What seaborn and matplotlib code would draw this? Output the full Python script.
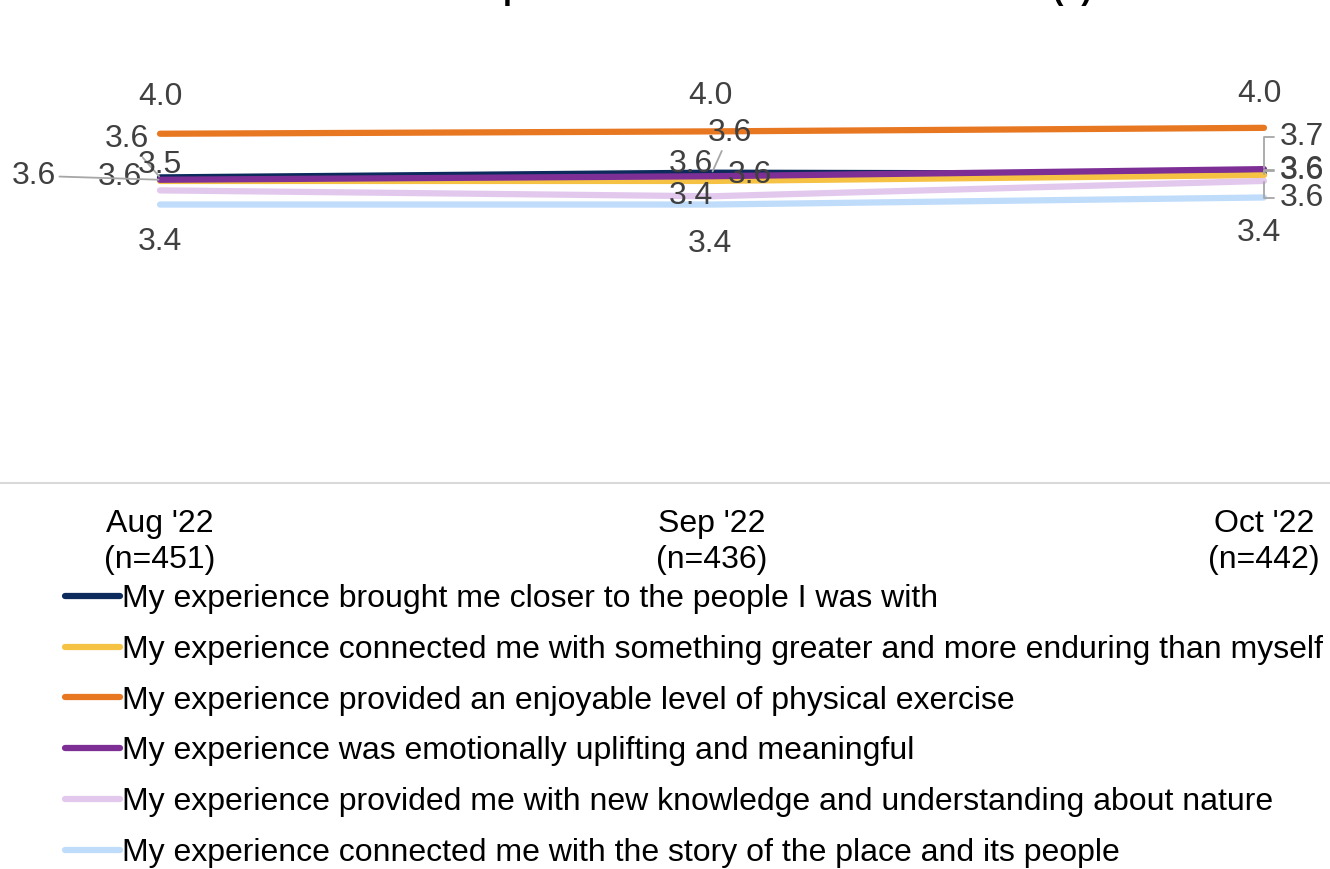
import numpy as np
import pandas as pd
import seaborn as sns
import matplotlib.pyplot as plt

# -------------------- data --------------------
months = ["Aug '22\n(n=451)", "Sep '22\n(n=436)", "Oct '22\n(n=442)"]

series_names = [
    "My experience brought me closer to the people I was with",
    "My experience connected me with something greater and more enduring than myself",
    "My experience provided an enjoyable level of physical exercise",
    "My experience was emotionally uplifting and meaningful",
    "My experience provided me with new knowledge and understanding about nature",
    "My experience connected me with the story of the place and its people",
]

closer_people = [3.59, 3.63, 3.62]
greater_than_myself = [3.56, 3.56, 3.61]
physical_exercise = [3.96, 3.98, 4.01]
emotionally_uplifting = [3.57, 3.60, 3.66]
new_knowledge = [3.48, 3.43, 3.56]
story_of_place = [3.36, 3.36, 3.42]

all_values = [closer_people, greater_than_myself, physical_exercise,
              emotionally_uplifting, new_knowledge, story_of_place]

colors = ["#0c2a5b", "#f5c244", "#e87722", "#7e2f96", "#e3c8ee", "#bfdcfb"]

title = "Personal Experience at Protected Natural Areas (4)"

# label offsets in pixels (dx, dy) per series per month, and the leader style
label_offsets = {
    0: [(-33, 38, "line"), (18, 40, "line"), (38, 3, "angle")],
    1: [(-40, 4, None), (38, 6, None), (38, 5, "angle")],
    2: [(0, 37, None), (-2, 35, None), (-5, 34, None)],
    3: [(-126, 4, "line"), (-21, 12, None), (38, 32, "angle")],
    4: [(0, 25, None), (-21, 0, None), (38, -17, "angle")],
    5: [(0, -37, None), (-2, -39, None), (-5, -36, None)],
}

FS = 23

# -------------------- build frame --------------------
rows = []
for name, vals in zip(series_names, all_values):
    for i, v in enumerate(vals):
        rows.append({"month": i, "score": v, "statement": name})
df = pd.DataFrame(rows)

sns.set_theme(style="white")
plt.rcParams["font.family"] = ["Liberation Sans", "DejaVu Sans"]

fig = plt.figure(figsize=(13.3, 8.69), dpi=100)
ax = fig.add_axes([0, 0.4442, 1, 0.5431])

sns.lineplot(data=df, x="month", y="score", hue="statement", hue_order=series_names,
             palette=colors, linewidth=4.5, sort=False, ax=ax,
             solid_capstyle="round", legend=True)

ax.set_xlim(-0.2899, 2.1196)
ax.set_ylim(1, 5)
ax.set_xticks(range(len(months)))
ax.set_xticklabels(months, fontsize=FS, color="black", linespacing=1.25)
ax.tick_params(axis="x", length=0, pad=19)
ax.set_yticks([])
ax.set_xlabel("")
ax.set_ylabel("")
for s in ["top", "left", "right"]:
    ax.spines[s].set_visible(False)
ax.spines["bottom"].set_color("#d9d9d9")
ax.spines["bottom"].set_linewidth(1.5)

# -------------------- data labels --------------------
for si, vals in enumerate(all_values):
    for mi, v in enumerate(vals):
        dx, dy, leader = label_offsets[si][mi]
        arrow = None
        if leader == "line":
            arrow = dict(arrowstyle="-", color="#a6a6a6", lw=1.3, shrinkA=0, shrinkB=1)
        elif leader == "angle":
            arrow = dict(arrowstyle="-", color="#a6a6a6", lw=1.3, shrinkA=2, shrinkB=1,
                         connectionstyle="angle,angleA=0,angleB=90,rad=0")
        ax.annotate(f"{v:.1f}", xy=(mi, v), xytext=(dx, dy), textcoords="offset pixels",
                    ha="center", va="center", fontsize=FS, color="#404040",
                    arrowprops=arrow, annotation_clip=False)

# -------------------- legend --------------------
handles, labels = ax.get_legend_handles_labels()
ax.get_legend().remove()
leg = fig.legend(handles, labels, loc="upper left", bbox_to_anchor=(65 / 1330, 1 - 584 / 869),
                 frameon=False, fontsize=FS, handlelength=1.72, handletextpad=0.05,
                 labelspacing=0.65, borderpad=0, borderaxespad=0)
for t in leg.get_texts():
    t.set_color("black")

fig.text(706 / 1330, 1 + 1 / 869, title, ha="center", va="baseline",
         fontsize=FS, fontweight="bold", color="black")

fig.savefig("out.png", dpi=100)
